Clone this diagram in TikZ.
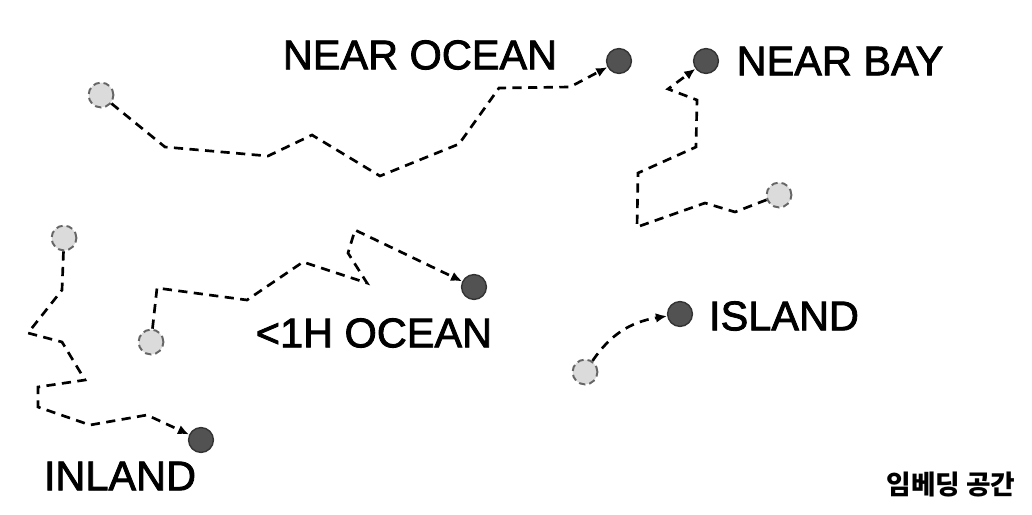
\documentclass[tikz,border=0pt]{standalone}
\usepackage{fontspec}
\setmainfont{Liberation Sans}[FakeBold=2]
\newfontfamily\krfont{Noto Sans CJK KR}
\usetikzlibrary{arrows.meta}

\begin{document}
\begin{tikzpicture}[
  x=0.025cm,y=-0.025cm,
  src/.style={circle,draw=black!60,dashed,dash pattern=on 1.6mm off 1mm,line width=1.4pt,fill=black!14,minimum size=6.2mm,inner sep=0pt},
  dst/.style={circle,draw=black!80,line width=1pt,fill=black!68,minimum size=6.2mm,inner sep=0pt},
  lbl/.style={font=\fontsize{29.5}{32}\selectfont,inner sep=0pt},
  trail/.style={draw,dash pattern=on 2.3mm off 1.6mm,line width=1.9pt,->},
  >={Latex[length=2.8mm,width=2.4mm]}
]
\useasboundingbox (0,0) rectangle (1032,514);

% starting points
\node[src] (sOcean) at (101,95) {};
\node[src] (sBay) at (779,195) {};
\node[src] (sInland) at (64,238) {};
\node[src] (sHour) at (151,342) {};
\node[src] (sIsland) at (585,372) {};

% end points
\node[dst] (eOcean) at (619,61) {};
\node[dst] (eBay) at (706,61) {};
\node[dst] (eHour) at (474,287) {};
\node[dst] (eInland) at (201,440) {};
\node[dst] (eIsland) at (680,314) {};

% labels
\node[lbl] (tOcean) at (420,55) {NEAR OCEAN};
\node[lbl] (tBay) at (840,61) {NEAR BAY};
\node[lbl] (tHour) at (374,333) {<1H OCEAN};
\node[lbl] (tIsland) at (784,316) {ISLAND};
\node[lbl] (tInland) at (120,476) {INLAND};
\node[font=\krfont\bfseries\fontsize{19}{22}\selectfont,inner sep=0pt] (tSpace) at (951,485) {임베딩 공간};

% trails
\draw[trail] (sOcean) -- (165,147) -- (268,156) -- (312,135) -- (380,176) -- (459,144) -- (499,88) -- (570,87) -- (eOcean);
\draw[trail] (sBay) -- (735,212) -- (705,203) -- (637,227) -- (638,173) -- (696,147) -- (697,100) -- (668,89) -- (eBay);
\draw[trail] (sInland) -- (62,290) -- (28,333) -- (62,342) -- (85,380) -- (38,387) -- (38,407) -- (90,425) -- (147,415) -- (eInland);
\draw[trail] (sHour) -- (157,288) -- (247,300) -- (303,262) -- (367,283) -- (348,253) -- (355,230) -- (eHour);
\draw[trail] (sIsland) .. controls (610,335) and (630,322) .. (eIsland);
\end{tikzpicture}
\end{document}
